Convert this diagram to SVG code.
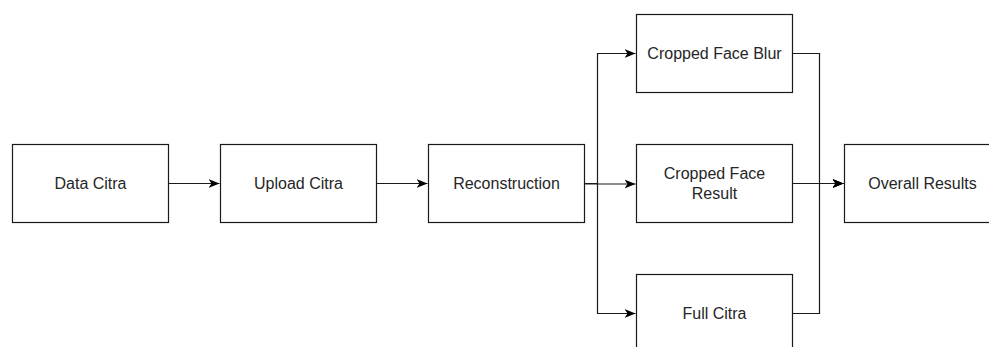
<svg xmlns="http://www.w3.org/2000/svg" width="989" height="347" viewBox="0 0 989 347">
<defs>
<style>
.box{fill:#ffffff;stroke:#1a1a1a;stroke-width:1.2}
.lbl{font-family:"Liberation Sans",Arial,Helvetica,sans-serif;font-size:16px;fill:#262626;text-anchor:middle;dominant-baseline:central}
.edge{fill:none;stroke:#1a1a1a;stroke-width:1.2}
</style>
<marker id="arr" viewBox="0 0 12 10" refX="11" refY="5" markerWidth="12" markerHeight="10" markerUnits="userSpaceOnUse" orient="auto">
<path d="M0,0.5 L11,5 L0,9.5 L3,5 Z" fill="#000000"/>
</marker>
</defs>
<rect width="989" height="347" fill="#ffffff"/>
<g id="connectors">
<path class="edge" d="M168.5,183.5 H219.5" marker-end="url(#arr)"/>
<path class="edge" d="M376.5,183.5 H427.5" marker-end="url(#arr)"/>
<path class="edge" d="M584.5,183.5 H597.5 V53.5 H635.5" marker-end="url(#arr)"/>
<path class="edge" d="M584.5,184 H635.5" marker-end="url(#arr)"/>
<path class="edge" d="M584.5,183.5 H597.5 V313.5 H635.5" marker-end="url(#arr)"/>
<path class="edge" d="M792.5,53.5 H819.5 V183.5 H843.5" marker-end="url(#arr)"/>
<path class="edge" d="M792.5,183.5 H843.5" marker-end="url(#arr)"/>
<path class="edge" d="M792.5,313.5 H819.5 V183.5 H843.5" marker-end="url(#arr)"/>
</g>
<g id="node-data-citra">
<rect class="box" x="12.5" y="144.5" width="156" height="78"/>
<text class="lbl" x="90.5" y="183.5">Data Citra</text>
</g>
<g id="node-upload-citra">
<rect class="box" x="220.5" y="144.5" width="156" height="78"/>
<text class="lbl" x="298.5" y="183.5">Upload Citra</text>
</g>
<g id="node-reconstruction">
<rect class="box" x="428.5" y="144.5" width="156" height="78"/>
<text class="lbl" x="506.5" y="183.5">Reconstruction</text>
</g>
<g id="node-cropped-face-blur">
<rect class="box" x="636.5" y="14.5" width="156" height="78"/>
<text class="lbl" x="714.5" y="53.5">Cropped Face Blur</text>
</g>
<g id="node-cropped-face-result">
<rect class="box" x="636.5" y="144.5" width="156" height="78"/>
<text class="lbl" x="714.5" y="173.5">Cropped Face</text>
<text class="lbl" x="714.5" y="193">Result</text>
</g>
<g id="node-full-citra">
<rect class="box" x="636.5" y="274.5" width="156" height="78"/>
<text class="lbl" x="714.5" y="313.5">Full Citra</text>
</g>
<g id="node-overall-results">
<rect class="box" x="844.5" y="144.5" width="156" height="78"/>
<text class="lbl" x="922.5" y="183.5">Overall Results</text>
</g>
</svg>
